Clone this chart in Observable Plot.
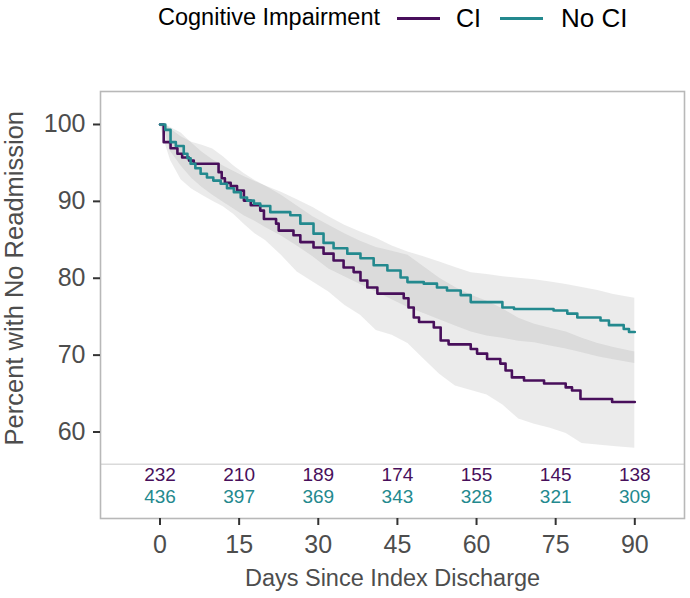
<!DOCTYPE html>
<html>
<head>
<meta charset="utf-8">
<script src="https://cdn.jsdelivr.net/npm/d3@7"></script>
<script src="https://cdn.jsdelivr.net/npm/@observablehq/plot@0.6"></script>
<style>
  html, body { margin: 0; padding: 0; background: white; }
  #wrap { width: 690px; font-family: 'Liberation Sans', Arial, sans-serif; }
  #legend { position: relative; width: 690px; height: 44px; }
  #legend span { position: absolute; top: 18px; transform: translateY(-50%); color: #000; white-space: nowrap; line-height: 1; }
  #legend i { position: absolute; top: 16.5px; height: 3px; display: block; }
</style>
</head>
<body>
<div id="wrap">
  <div id="legend"></div>
  <div id="chart"></div>
</div>
<script>
// ---- data ----
const groups = ["CI", "No CI"];
const groupColors = ["#480f5b", "#23898e"];
const legendTitle = "Cognitive Impairment";
const xTitle = "Days Since Index Discharge";
const yTitle = "Percent with No Readmission";
const xTicks = [0, 15, 30, 45, 60, 75, 90];
const yTicks = [60, 70, 80, 90, 100];
const tableTop = 55.8; // y value where the number-at-risk table begins

const ciDays = [0, 0.7, 2.0, 3.3, 4.2, 5.5, 6.4, 11.1, 11.7, 12.3, 13.4, 14.6, 15.9, 17.2, 19.0, 19.7, 22.0, 22.5, 25.3, 26.6, 29.1, 31.0, 32.9, 34.8, 36.7, 38.0, 39.3, 41.2, 46.2, 47.1, 48.1, 49.1, 51.9, 53.2, 54.7, 58.9, 60.1, 62.0, 64.5, 65.5, 66.7, 69.0, 72.8, 76.9, 78.1, 79.7, 85.7, 90];
const ciSurv = [100, 97.7, 96.9, 96.2, 95.7, 95.3, 94.9, 93.8, 93.0, 92.4, 92.0, 91.4, 90.1, 89.5, 88.8, 87.7, 87.1, 86.2, 85.6, 84.7, 84.0, 83.2, 82.3, 81.4, 80.8, 79.7, 78.8, 78.0, 77.4, 76.2, 74.9, 74.3, 73.6, 71.9, 71.4, 70.8, 70.2, 69.5, 68.9, 68.0, 67.1, 66.7, 66.3, 65.8, 65.4, 64.3, 63.9, 63.9];

const nociDays = [0, 1.0, 2.0, 3.0, 4.5, 5.2, 5.8, 6.7, 7.7, 8.9, 10.1, 11.5, 12.7, 14.0, 15.3, 16.5, 17.8, 19.0, 20.9, 24.7, 26.6, 29.1, 31.0, 32.9, 35.5, 38.0, 40.5, 43.1, 45.6, 46.9, 50.0, 52.5, 54.4, 57.0, 58.9, 64.9, 67.1, 74.6, 77.2, 79.1, 83.5, 85.1, 87.9, 88.9, 90];
const nociSurv = [100, 99.3, 97.7, 97.2, 96.2, 95.6, 94.9, 94.3, 93.6, 93.1, 92.7, 92.3, 91.7, 91.2, 90.5, 90.1, 89.7, 89.4, 88.6, 88.2, 87.1, 85.8, 84.6, 83.9, 83.2, 82.6, 81.7, 81.0, 80.1, 79.5, 79.3, 78.8, 78.4, 77.8, 76.9, 76.2, 76.0, 75.8, 75.4, 74.9, 74.5, 73.9, 73.4, 73.0, 73.0];

const bandDays = [0, 1, 2, 4, 6, 8, 10, 12, 14, 16, 18, 20, 23, 26, 29, 32, 35, 38, 41, 44, 47, 50, 53, 56, 59, 62, 65, 68, 71, 74, 77, 80, 83, 86, 90];
const ciLower = [100, 97.5, 95.3, 92.8, 91.6, 90.8, 90.0, 89.3, 88.3, 87.0, 85.8, 84.9, 83.0, 80.8, 79.5, 78.2, 76.5, 75.2, 73.2, 72.6, 71.5, 69.5, 67.5, 66.0, 65.4, 64.8, 63.5, 61.7, 61.0, 60.5, 59.8, 58.5, 58.3, 58.1, 57.9];
const ciUpper = [100, 100, 99.4, 98.4, 97.7, 97.3, 96.8, 95.8, 94.6, 93.6, 92.7, 92.0, 90.8, 89.4, 88.0, 86.9, 85.8, 84.8, 84.0, 83.5, 83.0, 81.5, 80.0, 78.8, 77.8, 77.0, 76.0, 74.8, 74.0, 73.5, 73.0, 72.2, 71.5, 71.0, 70.4];
const nociLower = [100, 99.0, 96.5, 94.6, 93.0, 91.8, 90.8, 89.9, 89.0, 88.1, 87.4, 86.6, 85.5, 84.2, 82.8, 81.2, 80.2, 79.2, 78.2, 77.2, 76.2, 75.4, 74.6, 73.8, 73.0, 72.5, 72.2, 71.8, 71.6, 71.2, 70.8, 70.3, 69.8, 69.4, 68.9];
const nociUpper = [100, 100, 99.6, 98.9, 97.6, 96.4, 95.4, 94.6, 93.9, 93.2, 92.6, 92.0, 91.2, 90.2, 89.2, 88.0, 86.9, 86.0, 85.2, 84.2, 83.4, 82.8, 82.1, 81.4, 80.7, 80.5, 80.2, 80.0, 79.8, 79.5, 79.2, 78.8, 78.4, 77.9, 77.4];

const riskDays = [0, 15, 30, 45, 60, 75, 90];
const ciRisk = [232, 210, 189, 174, 155, 145, 138];
const nociRisk = [436, 397, 369, 343, 328, 321, 309];

// ---- tables built from the arrays ----
const curves = [
  ...ciDays.map((d, i) => ({day: d, surv: ciSurv[i], group: groups[0]})),
  ...nociDays.map((d, i) => ({day: d, surv: nociSurv[i], group: groups[1]}))
];
const bands = [
  ...bandDays.map((d, i) => ({day: d, lo: ciLower[i], hi: ciUpper[i], group: groups[0]})),
  ...bandDays.map((d, i) => ({day: d, lo: nociLower[i], hi: nociUpper[i], group: groups[1]}))
];
const riskCI = riskDays.map((d, i) => ({day: d, n: ciRisk[i], group: groups[0]}));
const riskNoCI = riskDays.map((d, i) => ({day: d, n: nociRisk[i], group: groups[1]}));

// ---- legend ----
const legend = document.getElementById("legend");
legend.innerHTML =
  `<span style="left:158px;font-size:23.5px">${legendTitle}</span>` +
  `<i style="left:397px;width:43px;background:${groupColors[0]}"></i>` +
  `<span style="left:456px;font-size:25px">${groups[0]}</span>` +
  `<i style="left:500px;width:43px;background:${groupColors[1]}"></i>` +
  `<span style="left:561px;font-size:26px">${groups[1]}</span>`;

// ---- chart ----
const chart = Plot.plot({
  width: 690,
  height: 554,
  marginLeft: 100,
  marginRight: 6,
  marginTop: 47,
  marginBottom: 80,
  style: {fontFamily: "'Liberation Sans', Arial, sans-serif", background: "white", overflow: "visible"},
  x: {domain: [-11.28, 99.42]},
  y: {domain: [48.75, 104.29]},
  color: {domain: groups, range: groupColors},
  marks: [
    Plot.areaY(bands, {x: "day", y1: "lo", y2: "hi", z: "group", fill: "#999999", fillOpacity: 0.2}),
    Plot.ruleY([tableTop], {stroke: "#dadada", strokeWidth: 1.5}),
    Plot.line(curves, {x: "day", y: "surv", z: "group", stroke: "group", curve: "step-after", strokeWidth: 2.6}),
    Plot.text(riskCI, {x: "day", text: "n", fill: "group", frameAnchor: "bottom", dy: -38, fontSize: 19}),
    Plot.text(riskNoCI, {x: "day", text: "n", fill: "group", frameAnchor: "bottom", dy: -16, fontSize: 19}),
    Plot.frame({stroke: "#b8b8b8", strokeWidth: 1.6}),
    Plot.axisY({ticks: yTicks, tickSize: 7, tickPadding: 8, fontSize: 25, stroke: "#333", fill: "#4d4d4d", strokeWidth: 2, label: null}),
    Plot.axisX({ticks: xTicks, tickSize: 7, tickPadding: 10, fontSize: 25, stroke: "#333", fill: "#4d4d4d", strokeWidth: 2, label: null}),
    Plot.text([yTitle], {y: () => (yTicks[0] + yTicks[yTicks.length - 1]) / 2, frameAnchor: "left", textAnchor: "middle", dx: -86, rotate: -90, fontSize: 25.5, fill: "#4d4d4d"}),
    Plot.text([xTitle], {frameAnchor: "bottom", dy: 67, fontSize: 23.5, fill: "#4d4d4d"})
  ]
});
document.getElementById("chart").appendChild(chart);
</script>
</body>
</html>
